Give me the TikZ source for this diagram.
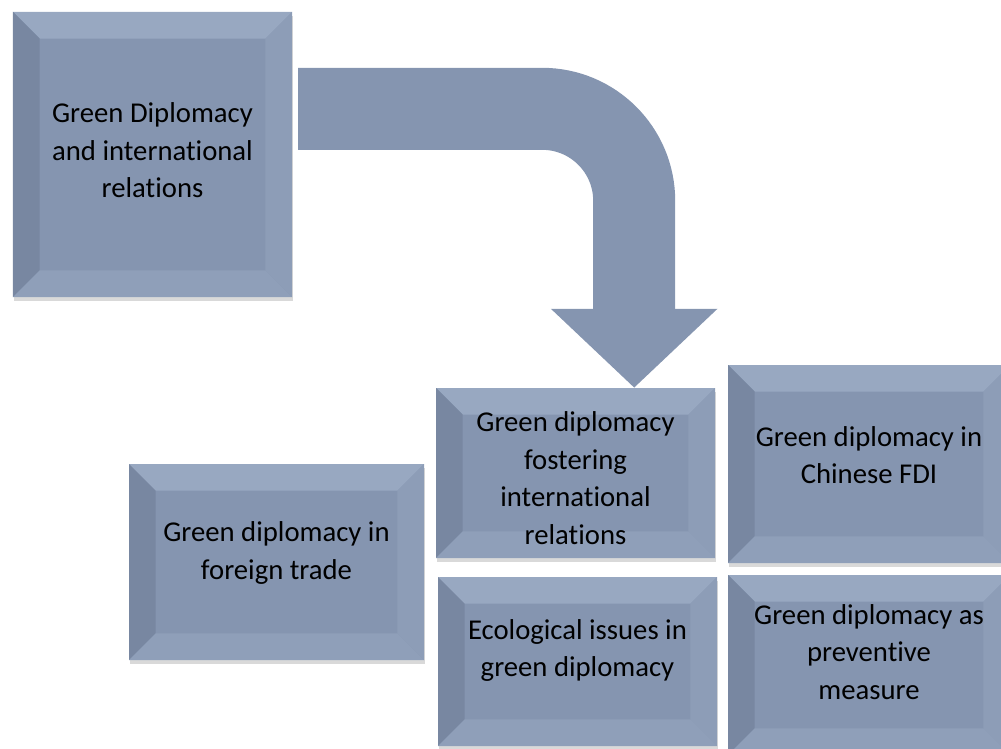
\documentclass[tikz,border=0pt]{standalone}
\usepackage{fontspec}
\setmainfont{Carlito}[Ligatures=NoCommon]
\usetikzlibrary{arrows.meta,shadows,calc}
\definecolor{boxface}{RGB}{133,149,176}
\definecolor{bevtop}{RGB}{152,168,193}
\definecolor{bevleft}{RGB}{120,135,161}
\definecolor{bevright}{RGB}{141,157,183}
\definecolor{bevbottom}{RGB}{143,159,185}
\newcommand\bevsize{8mm}
\tikzset{
  bevelbox/.style={rectangle, fill=boxface, inner sep=0pt,
    drop shadow={shadow xshift=.4mm, shadow yshift=-1.2mm, opacity=.3},
    path picture={
      \fill[bevtop] (path picture bounding box.north west) -- (path picture bounding box.north east)
        -- ([shift={(-\bevsize,-\bevsize)}]path picture bounding box.north east)
        -- ([shift={(\bevsize,-\bevsize)}]path picture bounding box.north west) -- cycle;
      \fill[bevleft] (path picture bounding box.north west) -- (path picture bounding box.south west)
        -- ([shift={(\bevsize,\bevsize)}]path picture bounding box.south west)
        -- ([shift={(\bevsize,-\bevsize)}]path picture bounding box.north west) -- cycle;
      \fill[bevright] (path picture bounding box.north east) -- (path picture bounding box.south east)
        -- ([shift={(-\bevsize,\bevsize)}]path picture bounding box.south east)
        -- ([shift={(-\bevsize,-\bevsize)}]path picture bounding box.north east) -- cycle;
      \fill[bevbottom] (path picture bounding box.south west) -- (path picture bounding box.south east)
        -- ([shift={(-\bevsize,\bevsize)}]path picture bounding box.south east)
        -- ([shift={(\bevsize,\bevsize)}]path picture bounding box.south west) -- cycle;
    }},
  boxtext/.style={align=center, font=\fontsize{24.5}{32}\selectfont, text=black},
  bigarrow/.style={draw=boxface, line width=24.6mm, rounded corners=27.6mm, shorten <=1.8mm,
    -{Triangle[length=23.7mm 0 0, width=48.6mm 0 0]}},
}
\begin{document}
\begin{tikzpicture}[x=0.3mm, y=-0.3mm]
\useasboundingbox (0,0) rectangle (1001,749);
\clip (0,0) rectangle (1001,749);
\node[bevelbox, minimum width=83.7mm, minimum height=85.5mm,
  label={[boxtext, yshift=1.2mm]center:Green Diplomacy\\and international\\relations}] (v0) at (152.5,154.5) {};
\node[bevelbox, minimum width=88.5mm, minimum height=58.8mm,
  label={[boxtext, yshift=2.7mm]center:Green diplomacy in\\foreign trade}] (v1) at (276.5,562) {};
\node[bevelbox, minimum width=83.7mm, minimum height=51mm,
  label={[boxtext, yshift=-1.5mm]center:Green diplomacy\\fostering\\international\\relations}] (v2) at (575.5,473) {};
\node[bevelbox, minimum width=83.7mm, minimum height=50.7mm,
  label={[boxtext, yshift=3.3mm]center:Ecological issues in\\green diplomacy}] (v3) at (577.5,661.5) {};
\node[bevelbox, minimum width=84.6mm, minimum height=59.4mm,
  label={[boxtext, yshift=2.7mm]center:Green diplomacy in\\Chinese FDI}] (v4) at (869,464) {};
\node[bevelbox, minimum width=84.6mm, minimum height=54mm,
  label={[boxtext, yshift=3.9mm]center:Green diplomacy as\\preventive\\measure}] (v5) at (869,665) {};
\coordinate (vout) at ($(v0.north east)!0.34!(v0.south east)$);
\coordinate (vin) at ($(v2.north west)!0.71!(v2.north east)$);
\draw [bigarrow] (vout) -| (vin);
\end{tikzpicture}
\end{document}
